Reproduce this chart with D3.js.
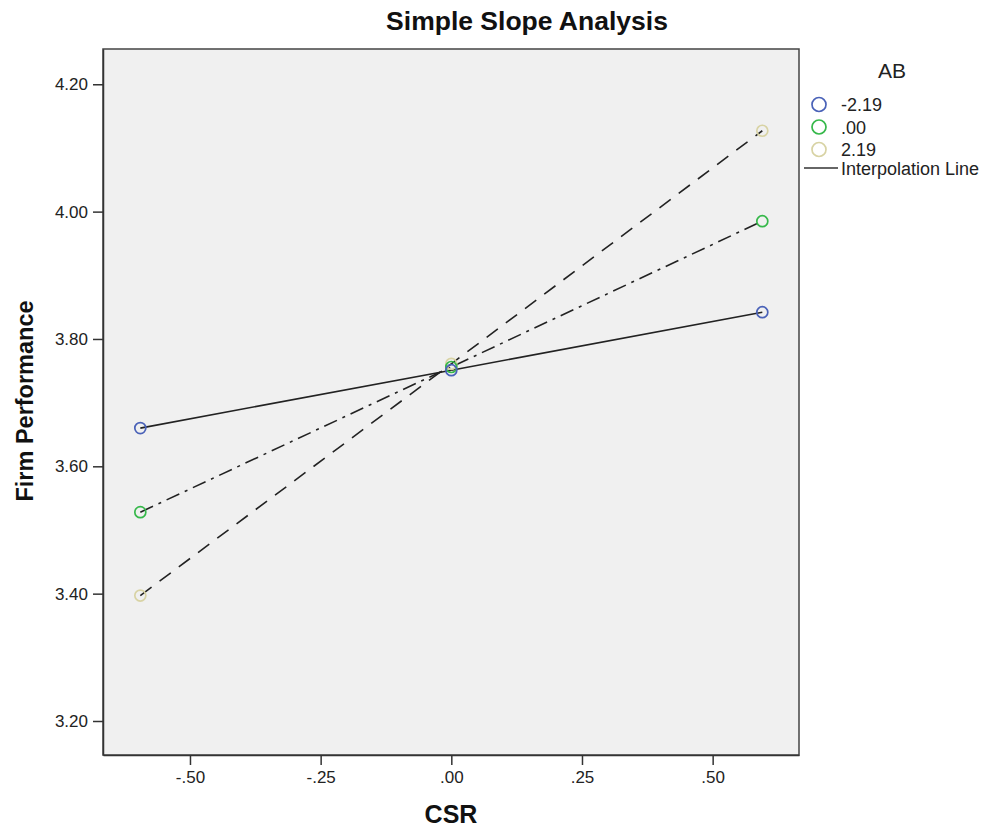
<!DOCTYPE html>
<html>
<head>
<meta charset="utf-8">
<script src="https://cdn.jsdelivr.net/npm/d3@7"></script>
<style>
  html, body { margin: 0; padding: 0; background: #ffffff; }
  svg { display: block; font-family: "Liberation Sans", Arial, sans-serif; }
  .tick text { font-size: 17px; font-family: "Liberation Sans", Arial, sans-serif; fill: #222; }
</style>
</head>
<body>
<svg id="chart" width="984" height="829"></svg>
<script>
// ---- data ----
const csrLevels = [-0.595, 0.0, 0.595];
const abLabels = ["-2.19", ".00", "2.19"];
const abLow = [3.660, 3.751, 3.842];
const abMid = [3.528, 3.756, 3.985];
const abHigh = [3.397, 3.761, 4.127];
const xTicks = [-0.50, -0.25, 0.00, 0.25, 0.50];
const xTickLabels = ["-.50", "-.25", ".00", ".25", ".50"];
const yTicks = [3.20, 3.40, 3.60, 3.80, 4.00, 4.20];
const yTickLabels = ["3.20", "3.40", "3.60", "3.80", "4.00", "4.20"];

const seriesColors = ["#4a62b8", "#36b84a", "#d8d3a4"];
const seriesDash = [null, "14,6,3,6", "14,10"];

const svg = d3.select("#chart");
const plot = { left: 103, top: 49, right: 799, bottom: 755 };

const x = d3.scaleLinear().domain([-0.6664, 0.6652]).range([plot.left, plot.right]);
const y = d3.scaleLinear().domain([3.1466, 4.2554]).range([plot.bottom, plot.top]);

// background
svg.append("rect")
  .attr("x", plot.left).attr("y", plot.top)
  .attr("width", plot.right - plot.left).attr("height", plot.bottom - plot.top)
  .attr("fill", "#f0f0f0")
  .attr("stroke", "#444").attr("stroke-width", 1.5);

// axes
const xAxis = d3.axisBottom(x).tickValues(xTicks)
  .tickFormat((d, i) => xTickLabels[i]).tickSize(10).tickSizeOuter(0).tickPadding(6);
const gx = svg.append("g").attr("transform", `translate(0,${plot.bottom})`).call(xAxis);
gx.attr("font-size", null).attr("font-family", null);
gx.select(".domain").attr("stroke", "#333").attr("stroke-width", 1.5);
gx.selectAll(".tick line").attr("stroke", "#333").attr("stroke-width", 1.5);

const yAxis = d3.axisLeft(y).tickValues(yTicks)
  .tickFormat((d, i) => yTickLabels[i]).tickSize(10).tickSizeOuter(0).tickPadding(5);
const gy = svg.append("g").attr("transform", `translate(${plot.left},0)`).call(yAxis);
gy.attr("font-size", null).attr("font-family", null);
gy.select(".domain").attr("stroke", "#333").attr("stroke-width", 1.5);
gy.selectAll(".tick line").attr("stroke", "#333").attr("stroke-width", 1.5);

// series
const series = [abLow, abMid, abHigh];
const line = d3.line().x((d, i) => x(csrLevels[i])).y(d => y(d));

series.forEach((vals, si) => {
  const p = svg.append("path").datum(vals)
    .attr("d", line)
    .attr("fill", "none")
    .attr("stroke", "#222")
    .attr("stroke-width", 1.6);
  if (seriesDash[si]) p.attr("stroke-dasharray", seriesDash[si]);
});

// markers
[2, 1, 0].forEach(si => {
  svg.append("g").selectAll("circle").data(series[si]).join("circle")
    .attr("cx", (d, i) => x(csrLevels[i]))
    .attr("cy", d => y(d))
    .attr("r", 5.5)
    .attr("fill", "none")
    .attr("stroke", seriesColors[si])
    .attr("stroke-width", 1.7);
});

// title
svg.append("text").attr("x", 527).attr("y", 30).attr("text-anchor", "middle")
  .attr("font-size", 26.5).attr("font-weight", "bold").attr("fill", "#111")
  .text("Simple Slope Analysis");

// axis titles
svg.append("text").attr("x", 451).attr("y", 823).attr("text-anchor", "middle")
  .attr("font-size", 25).attr("font-weight", "bold").attr("fill", "#111")
  .text("CSR");
svg.append("text").attr("transform", "translate(33,401) rotate(-90)")
  .attr("text-anchor", "middle")
  .attr("font-size", 23.5).attr("font-weight", "bold").attr("fill", "#111")
  .text("Firm Performance");

// legend
const lg = svg.append("g");
lg.append("text").attr("x", 892).attr("y", 78).attr("text-anchor", "middle")
  .attr("font-size", 21).attr("fill", "#222").text("AB");
abLabels.forEach((lab, i) => {
  const yy = 104.5 + i * 22.5;
  lg.append("circle").attr("cx", 819).attr("cy", yy).attr("r", 7)
    .attr("fill", "none").attr("stroke", seriesColors[i]).attr("stroke-width", 1.7);
  lg.append("text").attr("x", 841).attr("y", yy + 6.5).attr("font-size", 18)
    .attr("fill", "#222").text(lab);
});
lg.append("line").attr("x1", 804).attr("x2", 838).attr("y1", 168).attr("y2", 168)
  .attr("stroke", "#333").attr("stroke-width", 1.4);
lg.append("text").attr("x", 841).attr("y", 174.5).attr("font-size", 18)
  .attr("fill", "#222").text("Interpolation Line");
</script>
</body>
</html>
